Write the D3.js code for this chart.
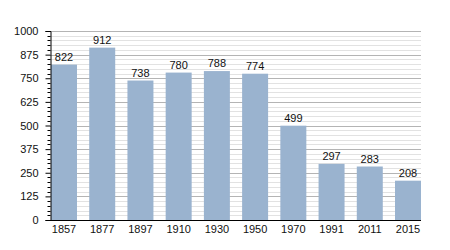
<!DOCTYPE html>
<html><head><meta charset="utf-8">
<script src="https://cdn.jsdelivr.net/npm/d3@7"></script>
<style>body{margin:0;background:#fff}svg{display:block}text{font-family:"Liberation Sans",Arial,sans-serif}</style>
</head><body>
<svg id="c" width="450" height="250"></svg>
<script>
const years = ["1857","1877","1897","1910","1930","1950","1970","1991","2011","2015"];
const population = [822,912,738,780,788,774,499,297,283,208];
const yTicks = [0,125,250,375,500,625,750,875,1000];

(function(){
const svg = d3.select("#c");
const mLeft = 50, mRight = 421, mTop = 31, mBottom = 220;
const x = d3.scaleBand().domain(years).range([mLeft+1, mRight]).paddingInner(0.32).paddingOuter(0);
const y = d3.scaleLinear().domain([0,1000]).range([mBottom, mTop]);

const minor = d3.range(0, 1001, 25).filter(v => v % 125 !== 0);
svg.append("g").selectAll("line").data(minor).join("line")
  .attr("x1", mLeft).attr("x2", mRight)
  .attr("y1", d => Math.round(y(d))+0.5).attr("y2", d => Math.round(y(d))+0.5)
  .attr("stroke", "#e2e2e2").attr("stroke-width", 1);
svg.append("g").selectAll("line").data(yTicks.filter(v=>v>0)).join("line")
  .attr("x1", mLeft).attr("x2", mRight)
  .attr("y1", d => Math.round(y(d))+0.5).attr("y2", d => Math.round(y(d))+0.5)
  .attr("stroke", "#b4b4b4").attr("stroke-width", 1);

svg.append("g").selectAll("rect").data(years).join("rect")
  .attr("x", d => x(d)).attr("width", x.bandwidth())
  .attr("y", (d,i) => y(population[i])).attr("height", (d,i) => mBottom - y(population[i]))
  .attr("fill", "#9ab3cf");

svg.append("g").selectAll("text").data(years).join("text")
  .attr("x", d => x(d) + x.bandwidth()/2)
  .attr("y", (d,i) => y(population[i]) - 4)
  .attr("text-anchor", "middle").attr("font-size", 11).attr("fill", "#111")
  .text((d,i) => population[i]);

const ya = svg.append("g").attr("transform", `translate(${mLeft+0.5},0)`)
  .call(d3.axisLeft(y).tickValues(yTicks).tickFormat(d3.format("d")).tickSize(5).tickPadding(7));
ya.select(".domain").attr("stroke", "#000");
ya.selectAll(".tick line").attr("stroke", "#000");
ya.selectAll(".tick text").attr("font-size", 11).attr("fill", "#111").attr("font-family", "Liberation Sans, Arial, sans-serif");
ya.append("g").selectAll("line").data(minor).join("line")
  .attr("x1", -3).attr("x2", 0)
  .attr("y1", d => Math.round(y(d))+0.5).attr("y2", d => Math.round(y(d))+0.5)
  .attr("stroke", "#000");

const xa = svg.append("g").attr("transform", `translate(0,${mBottom+0.5})`)
  .call(d3.axisBottom(x).tickSize(0).tickPadding(5));
xa.select(".domain").attr("stroke", "#000").attr("d", `M${mLeft},0H${mRight}`);
xa.selectAll(".tick text").attr("font-size", 11).attr("fill", "#111").attr("font-family", "Liberation Sans, Arial, sans-serif");
})();
</script>
</body></html>
